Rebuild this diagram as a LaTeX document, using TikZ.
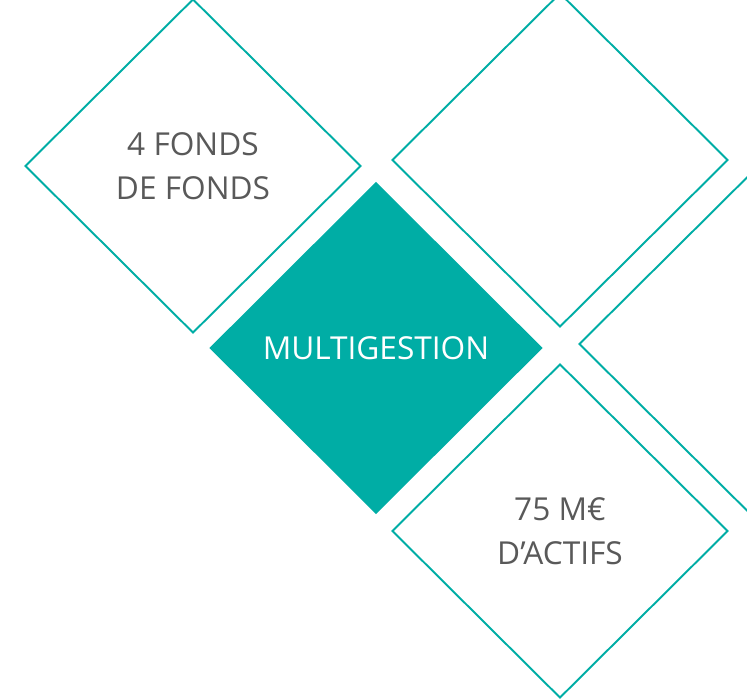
\documentclass[tikz,border=0pt]{standalone}
\usepackage{xcolor}
\usepackage{fontspec}
\setmainfont{Open Sans}
\usepackage{tikz}
\usetikzlibrary{shapes,positioning}
\definecolor{tealmain}{RGB}{0,173,165}
\definecolor{textgray}{RGB}{89,89,89}

\tikzset{
    losange/.style={diamond, draw=tealmain, line width=1.1pt, inner sep=0pt,
        minimum width=6.72cm, minimum height=6.68cm, align=center,
        text=textgray, font=\fontsize{18}{25}\selectfont},
    losangeplein/.style={losange, draw=none, fill=tealmain, text=white,
        minimum width=6.68cm, minimum height=6.66cm}
}

\begin{document}
\begin{tikzpicture}[x=0.02cm, y=-0.02cm]
        \useasboundingbox (0,0) rectangle (747,699);
        \clip (0,0) rectangle (747,699);
        % losanges
        \node[losange] (fonds) at (193,166) {4 FONDS\\DE FONDS};
        \node[losange] (vide) at (560,160) {};
        \node[losangeplein] (multi) at (376,348) {MULTIGESTION};
        \node[losange] (actifs) at (560,531) {75 M€\\D’ACTIFS};
        \node[losange] (bord) at (747,344) {};
    \end{tikzpicture}
\end{document}
